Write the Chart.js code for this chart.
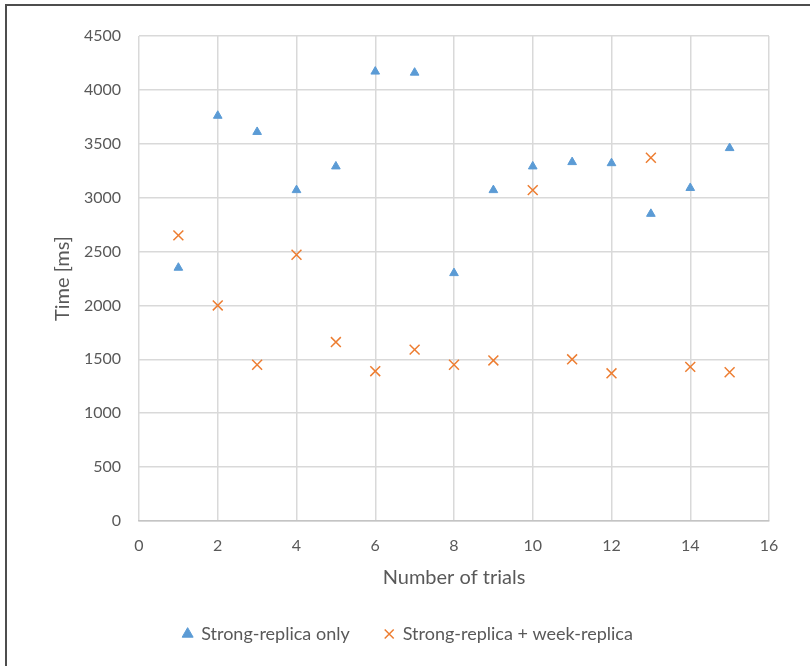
<!DOCTYPE html>
<html>
<head>
<meta charset="utf-8">
<script src="https://cdn.jsdelivr.net/npm/chart.js@4.4.1/dist/chart.umd.min.js"></script>
<style>
  html, body { margin: 0; padding: 0; background: #fff; }
  #wrap { position: relative; width: 810px; height: 666px; overflow: hidden; }
  #frame {
    position: absolute; left: 5px; top: 4px; width: 900px; height: 800px;
    border-top: 2px solid #4d4d4d; border-left: 2px solid #4d4d4d;
    pointer-events: none;
  }
  canvas { position: absolute; left: 0; top: 0; }
</style>
</head>
<body>
<div id="wrap">
  <canvas id="mychart" width="810" height="666"></canvas>
  <div id="frame"></div>
</div>
<script>
// -------- data --------
const trials = [1, 2, 3, 4, 5, 6, 7, 8, 9, 10, 11, 12, 13, 14, 15];
const strongOnly = [2350, 3760, 3610, 3070, 3290, 4170, 4160, 2300, 3070, 3290, 3330, 3320, 2850, 3090, 3460];
const strongWeek = [2650, 2000, 1450, 2470, 1660, 1390, 1590, 1450, 1490, 3070, 1500, 1370, 3370, 1430, 1380];
const seriesNames = ['Strong-replica only', 'Strong-replica + week-replica'];

const BLUE = '#5b9bd5';
const ORANGE = '#ed7d31';
const TEXT = '#595959';
const GRID = '#d9d9d9';
const FONT = 'Lato, "Open Sans", sans-serif';

const toPoints = (ys) => trials.map((x, i) => ({x: x, y: ys[i]}));

const data = {
  datasets: [
    {
      label: seriesNames[0],
      data: toPoints(strongOnly),
      pointStyle: 'triangle',
      pointRadius: 5,
      pointHoverRadius: 5,
      backgroundColor: BLUE,
      borderColor: BLUE,
      borderWidth: 1
    },
    {
      label: seriesNames[1],
      data: toPoints(strongWeek),
      pointStyle: 'crossRot',
      pointRadius: 7,
      pointHoverRadius: 7,
      backgroundColor: ORANGE,
      borderColor: ORANGE,
      borderWidth: 1.5
    }
  ]
};

const config = {
  type: 'scatter',
  data: data,
  options: {
    responsive: false,
    animation: false,
    layout: {
      padding: {left: 47, top: 36, right: 41, bottom: 13}
    },
    plugins: {
      tooltip: {enabled: false},
      legend: {
        position: 'bottom',
        labels: {
          usePointStyle: true,
          boxWidth: 9,
          boxHeight: 9,
          padding: 35,
          color: TEXT,
          font: {family: FONT, size: 18}
        }
      }
    },
    scales: {
      x: {
        type: 'linear',
        min: 0,
        max: 16,
        afterFit: (scale) => { scale.height = 69; },
        ticks: {
          stepSize: 2,
          padding: 15,
          color: TEXT,
          font: {family: FONT, size: 16},
          callback: (v) => String(v)
        },
        grid: {color: GRID, lineWidth: 1.5, drawTicks: false},
        border: {color: '#c4c4c4', width: 1.5},
        title: {
          display: true,
          text: 'Number of trials',
          color: TEXT,
          padding: {top: 4, bottom: 0},
          font: {family: FONT, size: 20}
        }
      },
      y: {
        type: 'linear',
        min: 0,
        max: 4500,
        afterFit: (scale) => { scale.width = 92; },
        ticks: {
          stepSize: 500,
          padding: 18,
          color: TEXT,
          font: {family: FONT, size: 16},
          callback: (v) => String(v)
        },
        grid: {color: GRID, lineWidth: 1.5, drawTicks: false},
        border: {display: false},
        title: {
          display: true,
          text: 'Time [ms]',
          color: TEXT,
          padding: 4,
          font: {family: FONT, size: 20}
        }
      }
    }
  }
};

const mychart = document.getElementById('mychart');
const chart = new Chart(mychart, config);
</script>
</body>
</html>
